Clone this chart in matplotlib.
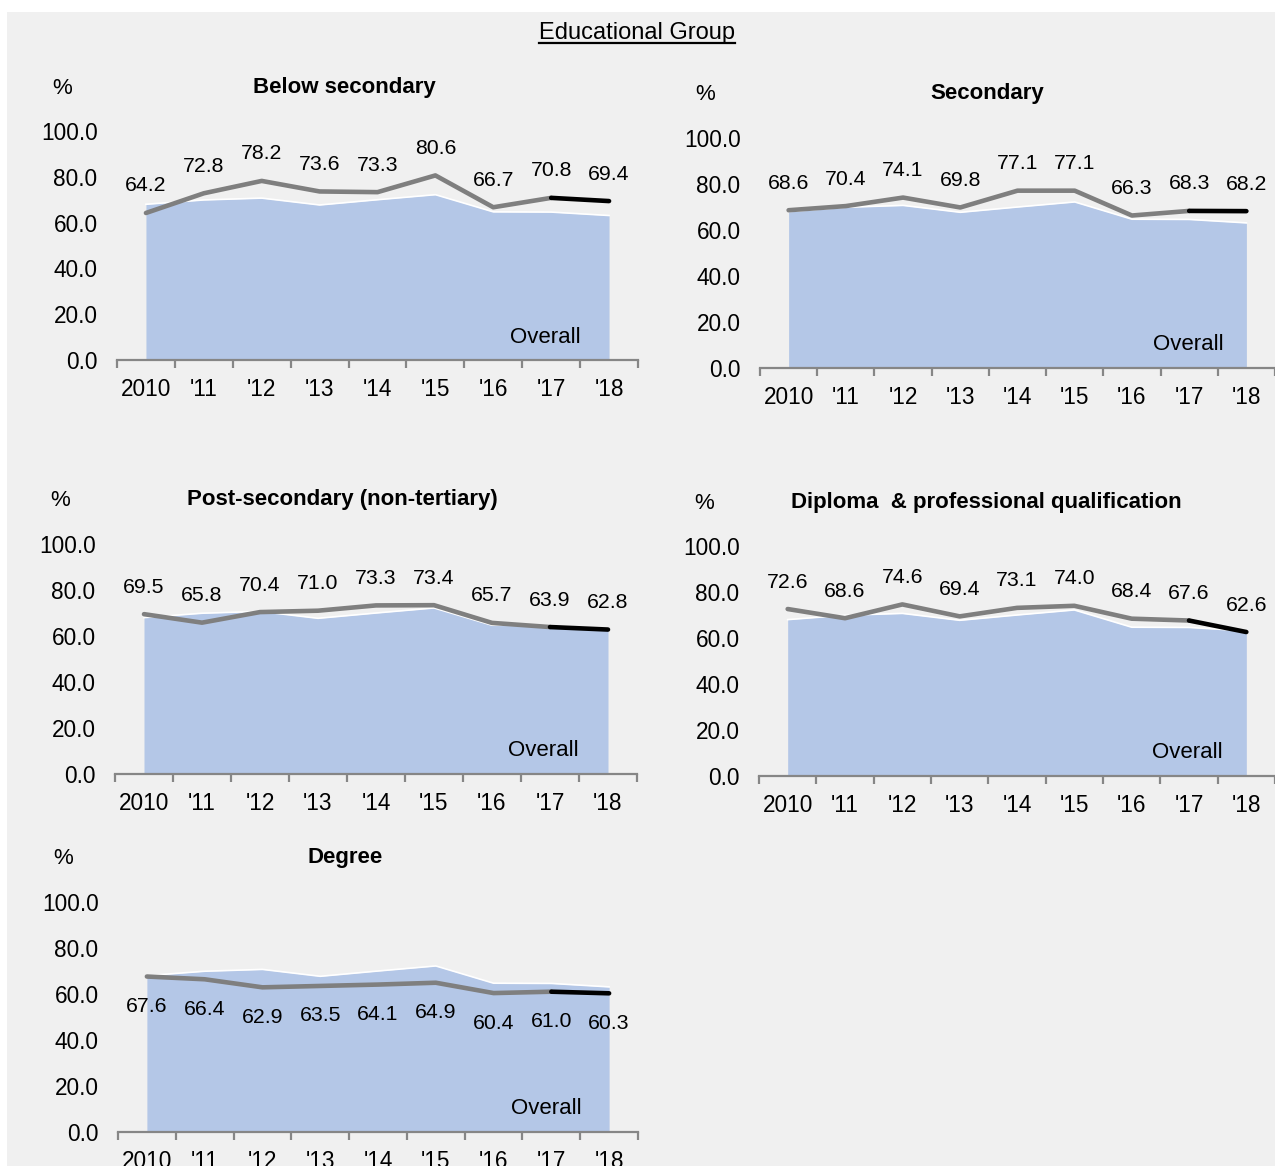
import matplotlib.pyplot as plt
import matplotlib.transforms as mtransforms
from matplotlib.patches import Rectangle
from matplotlib.lines import Line2D

plt.rcParams['font.family'] = ['Liberation Sans', 'DejaVu Sans']

W, H = 1275, 1166

years = ['2010', "'11", "'12", "'13", "'14", "'15", "'16", "'17", "'18"]

# overall rate, shown as the shaded area in every panel
overall = [68.0, 69.9, 70.7, 67.7, 70.0, 72.2, 64.7, 64.6, 63.1]

below_secondary = [64.2, 72.8, 78.2, 73.6, 73.3, 80.6, 66.7, 70.8, 69.4]
secondary = [68.6, 70.4, 74.1, 69.8, 77.1, 77.1, 66.3, 68.3, 68.2]
post_secondary = [69.5, 65.8, 70.4, 71.0, 73.3, 73.4, 65.7, 63.9, 62.8]
diploma = [72.6, 68.6, 74.6, 69.4, 73.1, 74.0, 68.4, 67.6, 62.6]
degree = [67.6, 66.4, 62.9, 63.5, 64.1, 64.9, 60.4, 61.0, 60.3]

panels = [
    ('Below secondary', below_secondary, (117, 638, 131, 360), 'above'),
    ('Secondary', secondary, (760, 1275, 138, 368), 'above'),
    ('Post-secondary (non-tertiary)', post_secondary, (115, 637, 544, 774), 'above'),
    ('Diploma  & professional qualification', diploma, (759, 1275, 546, 776), 'above'),
    ('Degree', degree, (118, 638, 902, 1132), 'below'),
]

AREA = '#b4c7e7'
LINE = '#7f7f7f'
AXIS = '#868686'

fig = plt.figure(figsize=(W / 100, H / 100), dpi=100)
fig.patch.set_facecolor('white')
fig.add_artist(Rectangle((7 / W, 0), 1 - 7 / W, 1 - 12 / H,
                         transform=fig.transFigure, facecolor='#f0f0f0',
                         edgecolor='none', zorder=-10))


def px_axes(left, right, top, bottom):
    return fig.add_axes([left / W, 1 - bottom / H, (right - left) / W, (bottom - top) / H])


def ax_text(ax, dx, dy, s, anchor, **kw):
    # place text at a pixel offset from an axes-fraction anchor
    tr = mtransforms.offset_copy(ax.transAxes, fig=fig, x=dx, y=dy, units='dots')
    ax.text(anchor[0], anchor[1], s, transform=tr, **kw)


x = list(range(len(years)))

for title, vals, box, where in panels:
    ax = px_axes(*box)
    ax.set_facecolor('none')
    ax.set_xlim(-0.5, len(years) - 0.5)
    ax.set_ylim(0, 100)

    ax.fill_between(x, 0, overall, color=AREA, linewidth=0, zorder=1)
    ax.plot(x, overall, color='white', lw=1.2, zorder=2)
    ax.plot(x[:-1], vals[:-1], color=LINE, lw=3.3, solid_capstyle='round', zorder=3)
    ax.plot(x[-2:], vals[-2:], color='black', lw=3.3, solid_capstyle='round', zorder=4)

    for xi, v in zip(x, vals):
        off = 27 if where == 'above' else -30
        ax.annotate(f'{v:.1f}', (xi, v), xytext=(0, off), textcoords='offset pixels',
                    ha='center', va='center', fontsize=15.3, color='black', zorder=5)

    for s in ['top', 'right', 'left']:
        ax.spines[s].set_visible(False)
    ax.spines['bottom'].set_color(AXIS)
    ax.spines['bottom'].set_linewidth(1.6)

    ax.set_xticks(x)
    ax.set_xticklabels(years)
    ax.set_xticks([i - 0.5 for i in range(len(years) + 1)], minor=True)
    ax.tick_params(axis='x', which='major', length=0, pad=13, labelsize=16.3)
    ax.tick_params(axis='x', which='minor', length=6, width=1.6, color=AXIS, direction='out')
    ax.set_yticks([0, 20, 40, 60, 80, 100])
    ax.set_yticklabels([f'{t:.1f}' for t in [0, 20, 40, 60, 80, 100]])
    ax.tick_params(axis='y', length=0, pad=14, labelsize=16.3)

    ax_text(ax, 227, 44, title, (0, 1), ha='center', va='center',
            fontsize=16, fontweight='bold')
    ax_text(ax, -55, 43, '%', (0, 1), ha='center', va='center', fontsize=16)
    ax_text(ax, 428, 23, 'Overall', (0, 0), ha='center', va='center', fontsize=16, zorder=6)

# underlined group heading
head = fig.text(637 / W, 1 - 33 / H, 'Educational Group', ha='center', va='center', fontsize=17)
fig.canvas.draw()
bb = head.get_window_extent()
uy = bb.y0 + 1
fig.add_artist(Line2D([bb.x0 / W, bb.x1 / W], [uy / H, uy / H],
                      transform=fig.transFigure, color='black', lw=1.6))

fig.savefig('out.png', dpi=100, facecolor=fig.get_facecolor())
